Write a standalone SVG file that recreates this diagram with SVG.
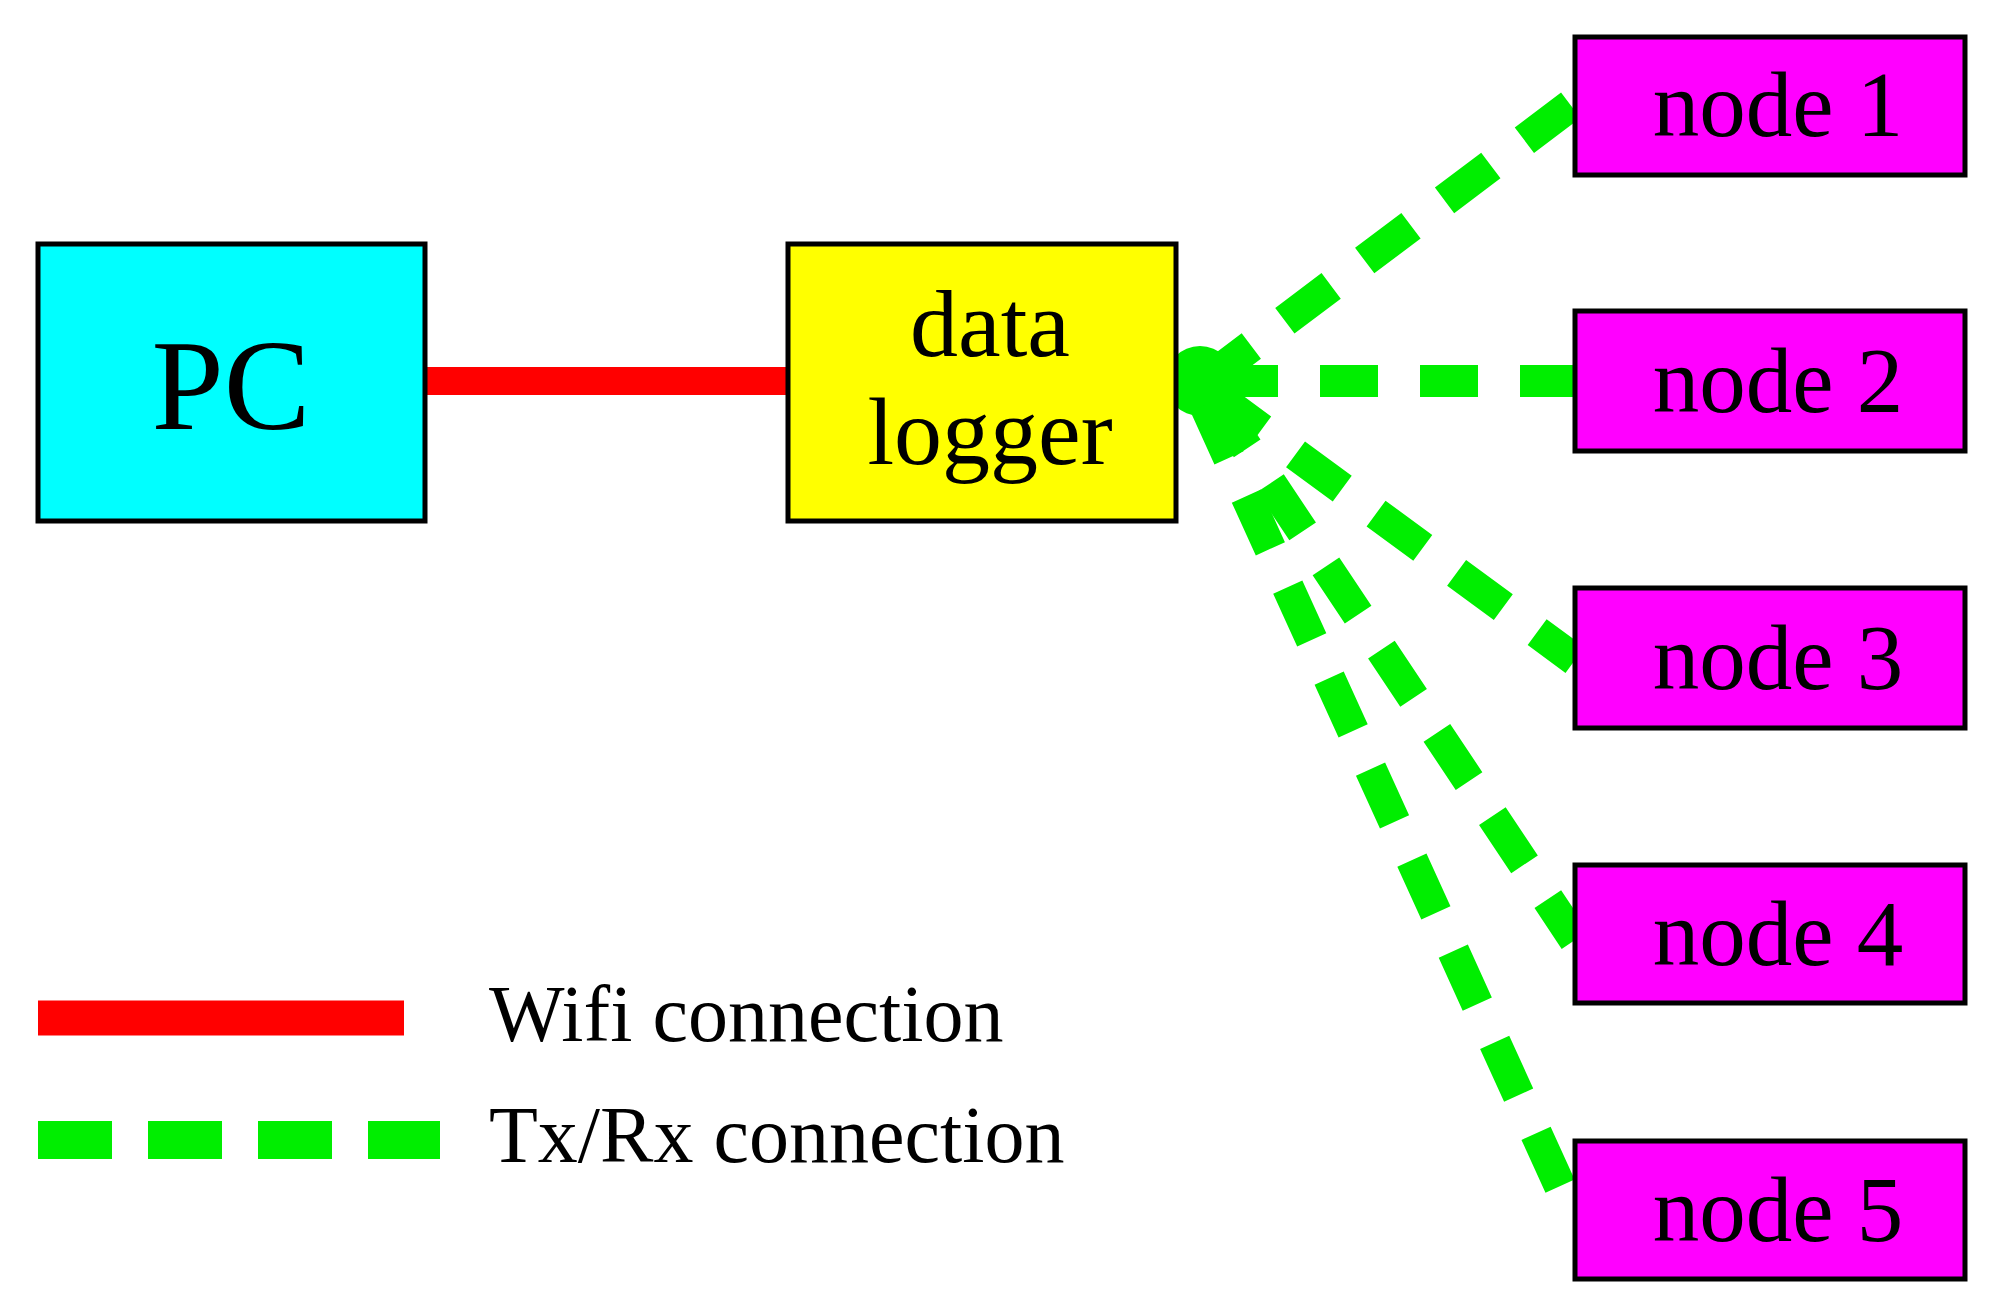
<svg xmlns="http://www.w3.org/2000/svg" width="1992" height="1314" viewBox="0 0 1992 1314">
<style>
.box{stroke:#000;stroke-width:5}
.t{font-family:"Liberation Serif",serif;fill:#000}
.g{stroke:#00ee00;stroke-width:32;fill:none;stroke-dasharray:58 42}
</style>
<rect width="1992" height="1314" fill="#fff"/>
<g id="connectors">
<line x1="425" y1="381" x2="788" y2="381" stroke="#ff0000" stroke-width="28"/>
<circle cx="1200" cy="381" r="35" fill="#00ee00"/>
<line class="g" x1="1205" y1="381" x2="1575" y2="102"/>
<line class="g" x1="1220" y1="381" x2="1575" y2="381"/>
<line class="g" x1="1215" y1="395" x2="1575" y2="660"/>
<line class="g" x1="1215" y1="400" x2="1575" y2="940"/>
<line class="g" x1="1205" y1="405" x2="1575" y2="1219"/>
</g>
<g id="pc"><rect class="box" x="38" y="244" width="387" height="277" fill="#00ffff"/><text class="t" x="231" y="429" font-size="130" text-anchor="middle">PC</text></g>
<g id="logger"><rect class="box" x="788" y="244" width="388" height="277" fill="#ffff00"/><text class="t" x="990" y="356" font-size="96" text-anchor="middle">data</text><text class="t" x="990" y="464" font-size="96" text-anchor="middle">logger</text></g>
<g id="node1"><rect class="box" x="1575" y="37" width="390" height="138" fill="#ff00ff"/><text class="t" x="1778" y="136" font-size="93" text-anchor="middle">node 1</text></g>
<g id="node2"><rect class="box" x="1575" y="311" width="390" height="140" fill="#ff00ff"/><text class="t" x="1778" y="412" font-size="93" text-anchor="middle">node 2</text></g>
<g id="node3"><rect class="box" x="1575" y="588" width="390" height="140" fill="#ff00ff"/><text class="t" x="1778" y="689" font-size="93" text-anchor="middle">node 3</text></g>
<g id="node4"><rect class="box" x="1575" y="865" width="390" height="138" fill="#ff00ff"/><text class="t" x="1778" y="965" font-size="93" text-anchor="middle">node 4</text></g>
<g id="node5"><rect class="box" x="1575" y="1141" width="390" height="138" fill="#ff00ff"/><text class="t" x="1778" y="1241" font-size="93" text-anchor="middle">node 5</text></g>
<g id="legend">
<line x1="38" y1="1018" x2="404" y2="1018" stroke="#ff0000" stroke-width="35"/>
<text class="t" x="489" y="1041" font-size="80">Wifi connection</text>
<line x1="38" y1="1140" x2="440" y2="1140" stroke="#00ee00" stroke-width="38" stroke-dasharray="74 36"/>
<text class="t" x="489" y="1162" font-size="80">Tx/Rx connection</text>
</g>
</svg>
